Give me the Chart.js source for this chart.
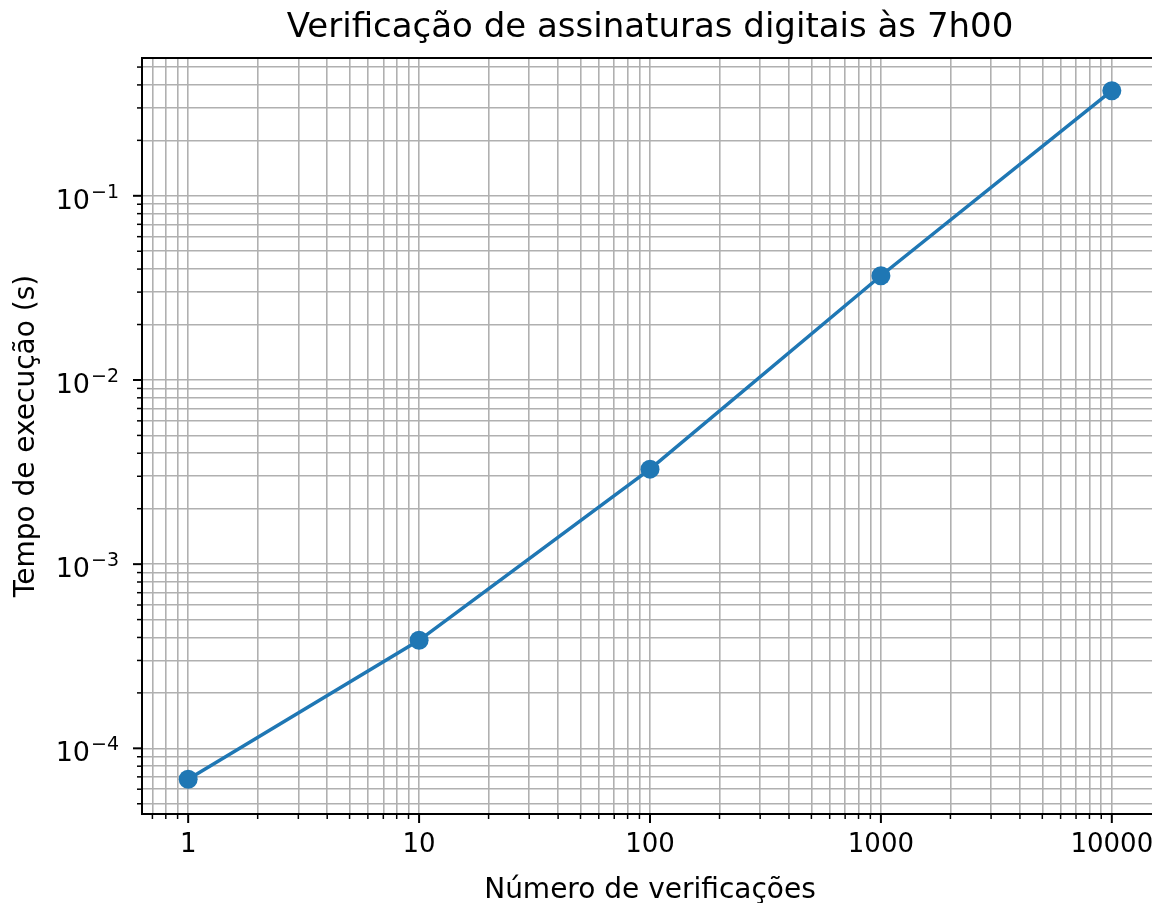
<!DOCTYPE html>
<html><head><meta charset="utf-8">
<script src="https://cdn.jsdelivr.net/npm/chart.js@4/dist/chart.umd.min.js"></script>
<style>html,body{margin:0;padding:0;overflow:hidden;background:#fff}#wrap{width:1170px;height:903px}</style>
</head><body><div id="wrap"><canvas id="c" width="1170" height="903"></canvas></div>
<script>
// ---- data ----
const verificacoes = [1, 10, 100, 1000, 10000];
const tempos = [6.8e-5, 3.86e-4, 3.28e-3, 0.0368, 0.372];
const xTickValues = [1, 10, 100, 1000, 10000];
const xTickLabels = ['1', '10', '100', '1000', '10000'];
const yTickValues = [1e-4, 1e-3, 1e-2, 1e-1];
const yTickBase = '10';
const yTickExponents = ['\u22124', '\u22123', '\u22122', '\u22121'];
const xLimits = [0.631, 15849];
const yLimits = [4.4e-5, 0.56];
const chartTitle = 'Verificação de assinaturas digitais às 7h00';
const xTitle = 'Número de verificações';
const yTitle = 'Tempo de execução (s)';

const FONT = 'DejaVu Sans';

function logTicks(min, max) {
  const out = [];
  const k0 = Math.floor(Math.log10(min)), k1 = Math.ceil(Math.log10(max));
  for (let k = k0; k <= k1; k++) {
    for (let d = 1; d <= 9; d++) {
      const v = d * Math.pow(10, k);
      if (v >= min * 0.999999 && v <= max * 1.000001) out.push(+v.toPrecision(6));
    }
  }
  return out;
}
function indexOfMajor(values, v) {
  for (let i = 0; i < values.length; i++) {
    if (Math.abs(Math.log10(v) - Math.log10(values[i])) < 1e-6) return i;
  }
  return -1;
}

const framePlugin = {
  id: 'frame',
  afterDraw(chart) {
    const ctx = chart.ctx, a = chart.chartArea;
    const xs = chart.scales.x, ys = chart.scales.y;
    ctx.save();
    ctx.strokeStyle = '#000';
    xs.ticks.forEach(t => {
      const maj = indexOfMajor(xTickValues, t.value) >= 0;
      const px = xs.getPixelForValue(t.value);
      ctx.lineWidth = maj ? 2 : 1.5;
      ctx.beginPath(); ctx.moveTo(px, a.bottom); ctx.lineTo(px, a.bottom + (maj ? 9 : 5)); ctx.stroke();
    });
    ys.ticks.forEach(t => {
      const i = indexOfMajor(yTickValues, t.value);
      const maj = i >= 0;
      const py = ys.getPixelForValue(t.value);
      ctx.lineWidth = maj ? 2 : 1.5;
      ctx.beginPath(); ctx.moveTo(a.left, py); ctx.lineTo(a.left - (maj ? 9 : 5), py); ctx.stroke();
      if (maj) {
        const right = a.left - 23;
        const baseline = py + 13;
        ctx.fillStyle = '#000';
        ctx.textAlign = 'right';
        ctx.textBaseline = 'alphabetic';
        ctx.font = '19px "' + FONT + '"';
        const exp = yTickExponents[i];
        const ew = ctx.measureText(exp).width;
        ctx.fillText(exp, right, baseline - 11);
        ctx.font = '27px "' + FONT + '"';
        ctx.fillText(yTickBase, right - ew - 1, baseline);
      }
    });
    ctx.lineWidth = 2;
    ctx.strokeRect(a.left, a.top, a.right - a.left, a.bottom - a.top);
    ctx.restore();
  }
};

new Chart(document.getElementById('c'), {
  type: 'line',
  data: {
    datasets: [{
      data: verificacoes.map((x, i) => ({x: x, y: tempos[i]})),
      borderColor: '#1f77b4',
      backgroundColor: '#1f77b4',
      borderWidth: 3.5,
      pointRadius: 9.5,
      pointHoverRadius: 9.5,
      pointBorderWidth: 0,
      tension: 0,
      fill: false
    }]
  },
  options: {
    responsive: false,
    animation: false,
    devicePixelRatio: 1,
    layout: {padding: {left: 0, right: 12, top: 0, bottom: 0}},
    plugins: {
      legend: {display: false},
      tooltip: {enabled: false},
      title: {
        display: true, text: chartTitle, fullSize: false, color: '#000',
        font: {family: FONT, size: 34, weight: 'normal'},
        padding: {top: 8, bottom: 9.2}
      }
    },
    scales: {
      x: {
        type: 'logarithmic', bounds: 'data', min: xLimits[0], max: xLimits[1],
        afterBuildTicks: s => { s.ticks = logTicks(xLimits[0], xLimits[1]).map(v => ({value: v})); },
        afterFit: s => { s.height = 89; s.paddingLeft = 0; s.paddingRight = 0; },
        ticks: {
          autoSkip: false, maxRotation: 0, minRotation: 0, color: '#000', padding: 16,
          font: {family: FONT, size: 26},
          callback: v => { const i = indexOfMajor(xTickValues, v); return i >= 0 ? xTickLabels[i] : ''; }
        },
        grid: {color: '#b0b0b0', lineWidth: 1.6, drawTicks: false},
        border: {display: false},
        title: {display: true, text: xTitle, color: '#000', font: {family: FONT, size: 28}, padding: {top: 0, bottom: -5}}
      },
      y: {
        type: 'logarithmic', bounds: 'data', min: yLimits[0], max: yLimits[1],
        afterBuildTicks: s => { s.ticks = logTicks(yLimits[0], yLimits[1]).map(v => ({value: v})); },
        afterFit: s => { s.width = 142; s.paddingTop = 0; s.paddingBottom = 0; },
        ticks: {
          autoSkip: false, color: '#000', padding: 24,
          font: {family: FONT, size: 26},
          callback: () => ''
        },
        grid: {color: '#b0b0b0', lineWidth: 1.6, drawTicks: false},
        border: {display: false},
        title: {display: true, text: yTitle, color: '#000', font: {family: FONT, size: 28}, padding: {top: 10, bottom: 0}}
      }
    }
  },
  plugins: [framePlugin]
});
</script></body></html>
